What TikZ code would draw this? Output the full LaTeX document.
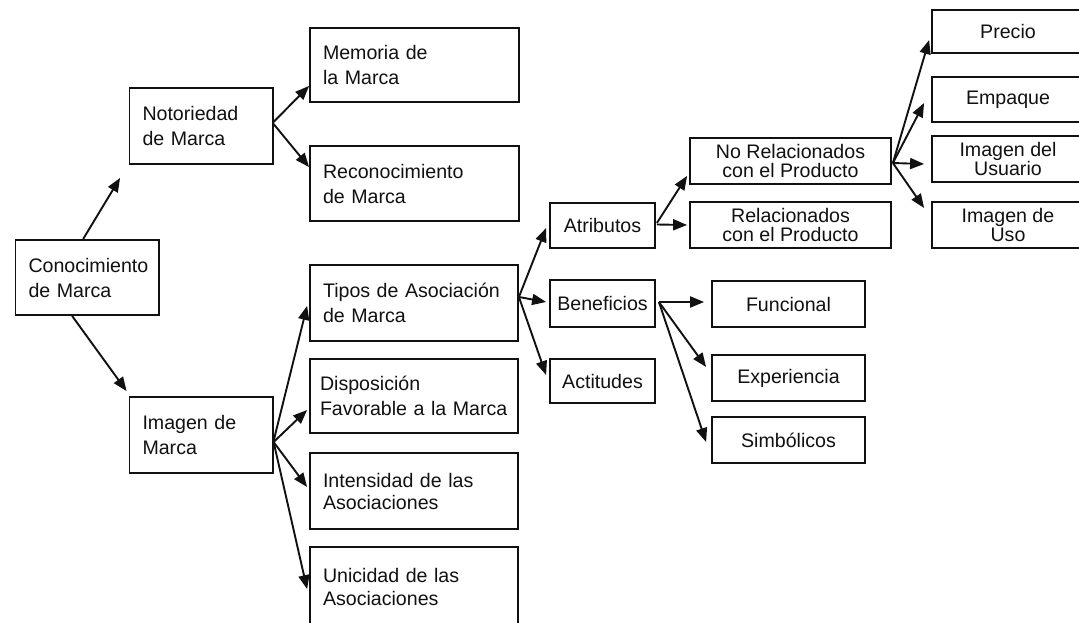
\documentclass[tikz,border=0pt]{standalone}
\usepackage{fontspec}
\setmainfont{Liberation Sans}
\usetikzlibrary{arrows.meta,calc}
\definecolor{ink}{HTML}{111111}
\tikzset{
  bx/.style={draw=ink, line width=1.8pt, inner ysep=0pt, text=ink},
  lbox/.style={bx, align=left, inner xsep=13pt, font=\fontsize{19.6}{25}\selectfont},
  cbox/.style={bx, align=center, inner xsep=2pt, font=\fontsize{19.6}{19}\selectfont},
  arr/.style={draw=ink, line width=1.9pt, -{Triangle[length=14pt,width=11pt]}},
}
\begin{document}
\begin{tikzpicture}[x=1pt,y=-1pt]
\useasboundingbox (0,0) rectangle (1079,623);
\fill[white] (0,0) rectangle (1079,623);
\clip (0,0) rectangle (1079,623);
% left column
\node[lbox, text width=117.5pt, minimum height=75pt] (conoc) at (87.25,277.5) {Conocimiento\\de Marca};
\node[lbox, text width=117.2pt, minimum height=76pt] (notor) at (201.1,126) {Notoriedad\\de Marca};
\node[lbox, text width=117.2pt, minimum height=76pt] (imagen) at (201.1,435) {Imagen de\\Marca};
\node[lbox, text width=182.6pt, minimum height=74pt] (memor) at (414.3,65) {Memoria de\\la Marca};
\node[lbox, text width=182.6pt, minimum height=75pt] (recon) at (414.3,183.5) {Reconocimiento\\de Marca};
\node[lbox, text width=182pt, minimum height=76pt] (tipos) at (414,303) {Tipos de Asociación\\de Marca};
\node[lbox, inner xsep=10pt, text width=188pt, minimum height=74pt] (dispo) at (414,396) {Disposición\\Favorable a la Marca};
\node[lbox, text width=182pt, minimum height=76pt, font=\fontsize{19.6}{22}\selectfont] (inten) at (414,491) {Intensidad de las\\Asociaciones};
\node[lbox, text width=182pt, minimum height=80pt, font=\fontsize{19.6}{23}\selectfont] (unici) at (414,587) {Unicidad de las\\Asociaciones};
% middle column
\node[cbox, minimum width=105pt, minimum height=45pt] (atrib) at (602.5,225.5) {Atributos};
\node[cbox, minimum width=105pt, minimum height=47pt] (benef) at (602.5,303.5) {Beneficios};
\node[cbox, minimum width=105pt, minimum height=44pt] (actit) at (602.5,381) {Actitudes};
\node[cbox, minimum width=201pt, minimum height=46pt] (norel) at (790.5,161) {No Relacionados\\con el Producto};
\node[cbox, minimum width=201pt, minimum height=46pt] (rel) at (790.5,225) {Relacionados\\con el Producto};
\node[cbox, minimum width=153pt, minimum height=46pt] (func) at (788.5,304) {Funcional};
\node[cbox, minimum width=153pt, minimum height=46pt] (exper) at (788.5,378) {Experiencia};
\node[cbox, minimum width=153pt, minimum height=46pt] (simb) at (788.5,440) {Simbólicos};
% right column
\node[cbox, minimum width=152pt, minimum height=43pt] (precio) at (1008,31.5) {Precio};
\node[cbox, minimum width=152pt, minimum height=45pt] (empaque) at (1008,99.5) {Empaque};
\node[cbox, minimum width=152pt, minimum height=46pt] (usuario) at (1008,159) {Imagen del\\Usuario};
\node[cbox, minimum width=152pt, minimum height=46pt] (uso) at (1008,225) {Imagen de\\Uso};
% arrows
\draw[arr] ($(conoc.north west)+(68.5,0)$) -- ($(notor.south west)+(-8.5,13)$);
\draw[arr] ($(conoc.south west)+(57.5,0)$) -- ($(imagen.north west)+(-2,-5)$);
\draw[arr] ($(notor.east)+(0,-4)$) -- ($(memor.south west)+(0,-17)$);
\draw[arr] ($(notor.east)+(0,-2)$) -- ($(recon.north west)+(0,22)$);
\draw[arr] ($(imagen.east)+(0,6)$) -- ($(tipos.south west)+(-2,-36)$);
\draw[arr] ($(imagen.east)+(0,7)$) -- ($(dispo.west)+(-2,14)$);
\draw[arr] ($(imagen.east)+(0,7)$) -- ($(inten.west)+(-2,-4)$);
\draw[arr] ($(imagen.east)+(0,7)$) -- ($(unici.north west)+(-2,43)$);
\draw[arr] ($(tipos.east)+(0,-6)$) -- ($(atrib.west)+(-3,2.5)$);
\draw[arr] ($(tipos.east)+(0,-6)$) -- ($(benef.west)+(-3,-1.5)$);
\draw[arr] ($(tipos.east)+(0,-6)$) -- ($(actit.west)+(-3,-6)$);
\draw[arr] ($(atrib.east)+(1,-2.5)$) -- ($(norel.south west)+(-2,-9)$);
\draw[arr] ($(atrib.east)+(1,-1)$) -- ($(rel.west)+(-2,0)$);
\draw[arr] ($(norel.east)+(1,2)$) -- ($(precio.west)+(-2,8.5)$);
\draw[arr] ($(norel.east)+(1,2)$) -- ($(empaque.west)+(-7,3.5)$);
\draw[arr] ($(norel.east)+(1,2)$) -- ($(usuario.west)+(-7,5)$);
\draw[arr] ($(norel.east)+(1,2)$) -- ($(uso.west)+(-7,-17)$);
\draw[arr] ($(benef.east)+(3,-1.5)$) -- ($(func.west)+(-7,-2)$);
\draw[arr] ($(benef.east)+(3,-1.5)$) -- ($(exper.west)+(-5,-11)$);
\draw[arr] ($(benef.east)+(3,-1.5)$) -- ($(simb.west)+(-5,2)$);
\end{tikzpicture}
\end{document}
